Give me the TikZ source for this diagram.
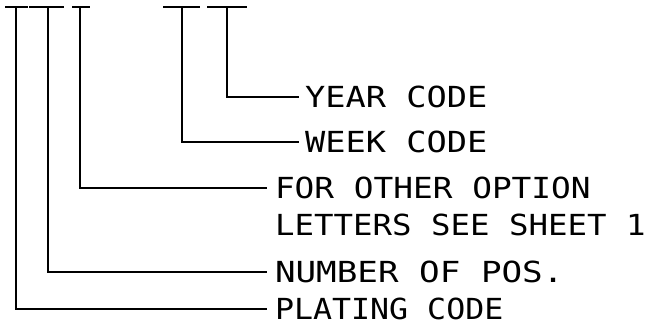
\documentclass[tikz,border=0pt]{standalone}
\usepackage{fontspec}
\setmonofont{DejaVu Sans Mono}
\begin{document}
\begin{tikzpicture}[x=1pt,y=-1pt,
  bar/.style={line width=2pt},
  lead/.style={line width=2.2pt},
  lbl/.style={anchor=west,inner sep=0pt,outer sep=0pt,font=\ttfamily\fontsize{29}{29}\selectfont}]
\useasboundingbox (0,0) rectangle (649,327);
% top bars
\draw[bar] (5,7) -- (28,7);
\draw[bar] (29,7) -- (64,7);
\draw[bar] (72,7) -- (90,7);
\draw[bar] (163,7) -- (200,7);
\draw[bar] (207,7) -- (247,7);
% stems
\coordinate (s1) at (16,7);
\coordinate (s2) at (48,7);
\coordinate (s3) at (80,7);
\coordinate (s4) at (182,7);
\coordinate (s5) at (227,7);
% labels
\node[lbl] (year) at (305,97) {\scalebox{1.16}[1]{YEAR CODE}};
\node[lbl] (week) at (305,142) {\scalebox{1.16}[1]{WEEK CODE}};
\node[lbl] (for) at (275,188) {\scalebox{1.13}[1]{FOR OTHER OPTION}};
\node[lbl] (letters) at (275,225) {\scalebox{1.117}[1]{LETTERS SEE SHEET 1}};
\node[lbl] (num) at (275,272) {\scalebox{1.18}[1]{NUMBER OF POS.}};
\node[lbl] (plat) at (275,309) {\scalebox{1.09}[1]{PLATING CODE}};
% leaders
\draw[lead,shorten >=6pt] (s5) |- (year.west);
\draw[lead,shorten >=6pt] (s4) |- (week.west);
\draw[lead,shorten >=8pt] (s3) |- (for.west);
\draw[lead,shorten >=8pt] (s2) |- (num.west);
\draw[lead,shorten >=8pt] (s1) |- (plat.west);
\end{tikzpicture}
\end{document}
